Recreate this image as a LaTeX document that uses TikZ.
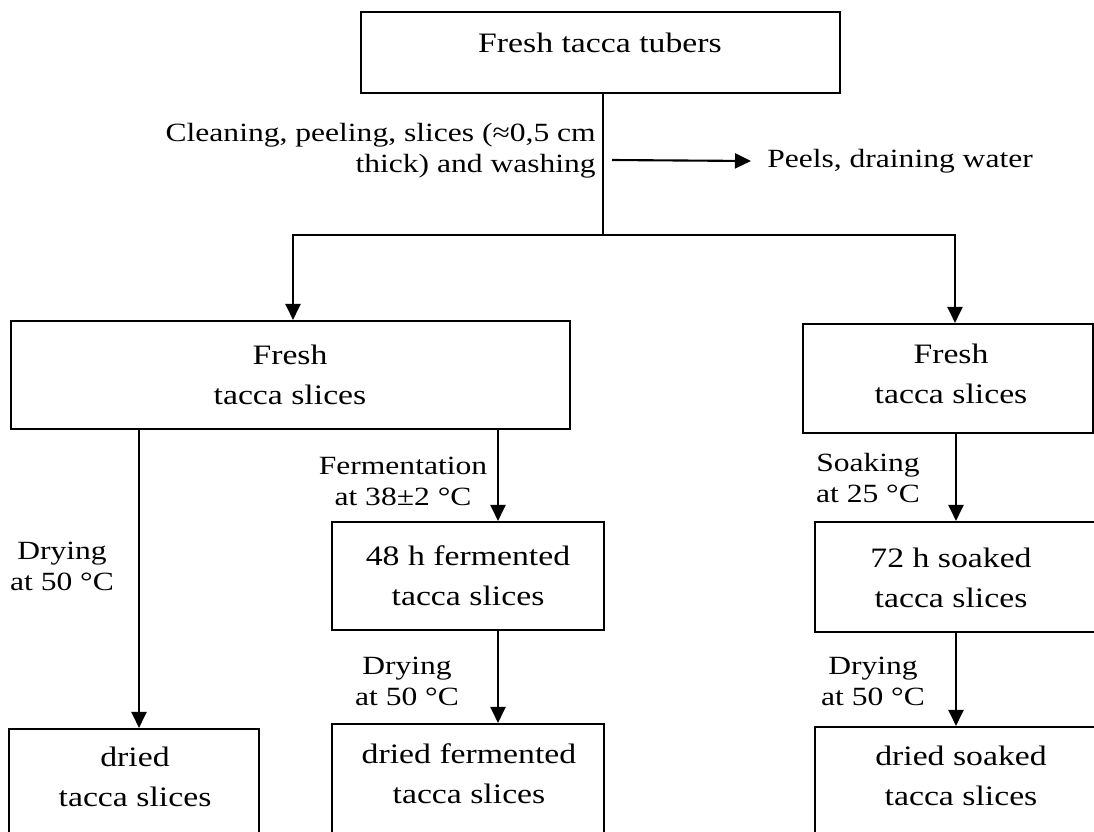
\documentclass[tikz,border=0pt]{standalone}
\usepackage{fontspec}
\setmainfont{Liberation Serif}[FakeStretch=1.2]
\usetikzlibrary{arrows.meta,fit}
\begin{document}
\begin{tikzpicture}[x=0.025cm,y=-0.025cm,
  box/.style={draw,line width=1.5pt,inner sep=0pt},
  bt/.style={align=center,inner sep=0pt,font=\fontsize{20}{28.5}\selectfont},
  lt/.style={align=center,inner sep=0pt,font=\fontsize{18.7}{22}\selectfont},
  ln/.style={line width=1.5pt},
  arr/.style={line width=1.5pt,-{Triangle[length=0.4cm,width=0.375cm]}}]
\useasboundingbox (0,0) rectangle (1094,831);
\clip (0,0) rectangle (1094,831);
% boxes
\node[box,fit={(361,12) (840,93)}] (top) {};
\node[bt] (toptxt) at (600,43) {Fresh tacca tubers};
\node[box,fit={(11,321) (570,429)}] (fl) {};
\node[bt] (fltxt) at (290,375) {Fresh\\tacca slices};
\node[box,fit={(803,324) (1093,433)}] (fr) {};
\node[bt] (frtxt) at (951,374) {Fresh\\tacca slices};
\node[box,fit={(332,522) (604,630)}] (fm) {};
\node[bt] (fmtxt) at (468,576) {48 h fermented\\tacca slices};
\node[box,fit={(815,522) (1130,632)}] (sk) {};
\node[bt] (sktxt) at (951,578) {72 h soaked\\tacca slices};
\node[box,fit={(9,729) (259,900)}] (bl) {};
\node[bt] (bltxt) at (135,777) {dried\\tacca slices};
\node[box,fit={(332,724) (604,900)}] (bm) {};
\node[bt] (bmtxt) at (469,774) {dried fermented\\tacca slices};
\node[box,fit={(815,727) (1130,900)}] (br) {};
\node[bt] (brtxt) at (961,776) {dried soaked\\tacca slices};
% labels
\node[lt,align=right,anchor=east] (clean) at (596,151) {Cleaning, peeling, slices (≈0,5 cm\\thick) and washing};
\node[lt,anchor=west] (peels) at (767,161) {Peels, draining water};
\node[lt] (dryl) at (62,566) {Drying\\at 50 °C};
\node[lt] (ferm) at (403,481) {Fermentation\\at 38±2 °C};
\node[lt] (drym) at (407,681) {Drying\\at 50 °C};
\node[lt] (soak) at (868,478) {Soaking\\at 25 °C};
\node[lt] (dryr) at (873,681) {Drying\\at 50 °C};
% connectors
\coordinate (j) at (603,235);
\coordinate (jl) at (293,235);
\coordinate (jr) at (955,235);
\coordinate (ps) at (612,160);
\coordinate (xl) at (139,0);
\coordinate (xm) at (498,0);
\coordinate (xr) at (956,0);
\draw[ln] (top.south -| j) -- (j);
\draw[arr] (ps) -- ([xshift=-0.4cm]peels.west);
\draw[arr] (j) -- (jl) -- (fl.north -| jl);
\draw[arr] (j) -- (jr) -- (fr.north -| jr);
\draw[arr] (fl.south -| xl) -- (bl.north -| xl);
\draw[arr] (fl.south -| xm) -- (fm.north -| xm);
\draw[arr] (fm.south -| xm) -- (bm.north -| xm);
\draw[arr] (fr.south -| xr) -- (sk.north -| xr);
\draw[arr] (sk.south -| xr) -- (br.north -| xr);
\end{tikzpicture}
\end{document}
